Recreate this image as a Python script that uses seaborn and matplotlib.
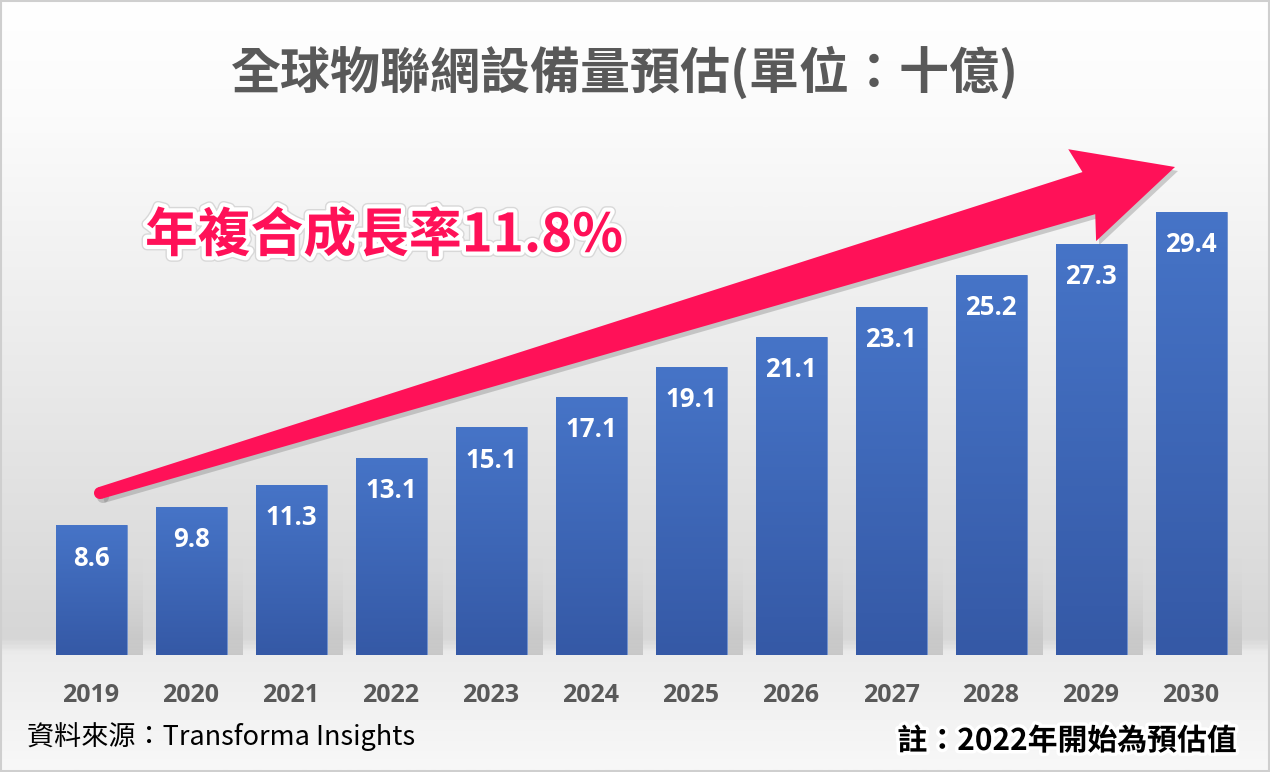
import numpy as np
import matplotlib
matplotlib.use("Agg")
import matplotlib.pyplot as plt
import matplotlib.patheffects as pe
from matplotlib.colors import LinearSegmentedColormap
from matplotlib.patches import Polygon, Ellipse, Rectangle
import seaborn as sns

# data (billions of IoT devices)
years = ["2019", "2020", "2021", "2022", "2023", "2024",
         "2025", "2026", "2027", "2028", "2029", "2030"]
devices = [8.6, 9.8, 11.3, 13.1, 15.1, 17.1, 19.1, 21.1, 23.1, 25.2, 27.3, 29.4]
value_labels = [f"{v:.1f}" for v in devices]

title = "全球物聯網設備量預估(單位：十億)"
cagr_text = "年複合成長率11.8%"
source_text = "資料來源：Transforma Insights"
note_text = "註：2022年開始為預估值"

sns.set_theme(style="white")
cjk = ["Noto Sans CJK TC", "DejaVu Sans"]
plt.rcParams["font.family"] = cjk

W, H = 1270, 772
fig = plt.figure(figsize=(W / 100, H / 100), dpi=100)


def fx(x):
    return x / W


def fy(y):
    return 1 - y / H


# background: white at the top, grey towards the baseline, lighter under it
bg = fig.add_axes([0, 0, 1, 1], zorder=-10)
bg_cmap = LinearSegmentedColormap.from_list(
    "bg",
    [(0.0, "#ffffff"), (0.15, "#fbfbfb"), (0.5, "#e9e9e9"),
     (0.83, "#d6d6d6"), (0.848, "#ececec"), (1.0, "#f8f8f8")])
bg.imshow(np.linspace(0, 1, 400)[:, None], aspect="auto", cmap=bg_cmap,
          extent=[0, 1, 0, 1])
bg.set_axis_off()
fig.add_artist(Rectangle((0.0008, 0.0013), 0.9984, 0.9974, transform=fig.transFigure,
                         fill=False, edgecolor="#cfcfcf", linewidth=1.5))

# bars
ax = fig.add_axes([fx(41), fy(655), 1200 / W, (655 - 117) / H])
sns.barplot(x=years, y=devices, color="#4472c4", width=0.71, ax=ax,
            edgecolor="#6e90cf", linewidth=0.6, zorder=3)
ymax = (655 - 117) / 15.07

bar_cmap = LinearSegmentedColormap.from_list("bar", ["#3559a6", "#4674c7"])
shadow_cmap = LinearSegmentedColormap.from_list(
    "sh", [(0.74, 0.74, 0.74, 0.75), (0.84, 0.84, 0.84, 0.0)])
for p in ax.patches:
    x0, w, h = p.get_x(), p.get_width(), p.get_height()
    im = ax.imshow(np.linspace(0, 1, 100)[:, None], cmap=bar_cmap, origin="lower",
                   aspect="auto", extent=[x0, x0 + w, 0, h], zorder=3.5)
    im.set_clip_path(p)
    # soft shadow to the right of each bar
    sh_h = min(h, 6.5)
    ax.imshow(np.linspace(0, 1, 100)[:, None], cmap=shadow_cmap, origin="lower",
              aspect="auto", extent=[x0 + w, x0 + w + 0.16, 0, sh_h], zorder=2)
ax.set_xlim(-0.5, len(years) - 0.5)
ax.set_ylim(0, ymax)

for i, (v, lab) in enumerate(zip(devices, value_labels)):
    ax.annotate(lab, xy=(i, v), xytext=(0, -23.5), textcoords="offset points",
                ha="center", va="center", color="white", fontsize=18.5,
                fontweight="bold", family=["Open Sans", "DejaVu Sans"], zorder=5)

ax.set_facecolor("none")
sns.despine(ax=ax, left=True, bottom=True)
ax.set_yticks([])
ax.set_xlabel("")
ax.set_ylabel("")
ax.tick_params(axis="x", length=0, pad=20)
for t in ax.get_xticklabels():
    t.set_fontsize(18)
    t.set_fontweight("bold")
    t.set_color("#595959")
    t.set_family(["Open Sans", "DejaVu Sans"])

# growth arrow (drawn in picture pixels)
tail = np.array([100.0, 493.0])
tip = np.array([1175.0, 167.0])
u = (tip - tail) / np.linalg.norm(tip - tail)
n = np.array([-u[1], u[0]]) * -1
L = np.linalg.norm(tip - tail)


def pt(back, hw):
    return tip - back * u + hw * n


outline = [pt(L, -6), pt(90, -22), pt(97, -48), tip,
           pt(97, 48), pt(90, 22), pt(L, 6)]
for off, col, a in [((3, 4), "#7a7a7a", 0.35), ((0, 0), "#ff1158", 1.0)]:
    pts = [(fx(x + off[0]), fy(y + off[1])) for x, y in outline]
    fig.add_artist(Polygon(pts, closed=True, transform=fig.transFigure,
                           facecolor=col, edgecolor="none", alpha=a))
    fig.add_artist(Ellipse((fx(tail[0] + off[0]), fy(tail[1] + off[1])), 12 / W, 12 / H,
                           transform=fig.transFigure, facecolor=col,
                           edgecolor="none", alpha=a))

# texts
fig.text(0.492, fy(73), title, ha="center", va="center", fontsize=36,
         fontweight="bold", color="#595959")
fig.text(fx(145), fy(236), cagr_text, ha="left", va="center", fontsize=38,
         fontweight="heavy", color="#ff1158",
         path_effects=[pe.withStroke(linewidth=8, foreground="#d8d8d8"),
                       pe.withStroke(linewidth=6, foreground="white")])
fig.text(fx(27), fy(737), source_text, ha="left", va="center", fontsize=19.5,
         color="black")
fig.text(fx(1237), fy(741), note_text, ha="right", va="center", fontsize=21.5,
         fontweight="bold", color="black",
         path_effects=[pe.withStroke(linewidth=5, foreground="white")])

fig.savefig("out.png", dpi=100)
